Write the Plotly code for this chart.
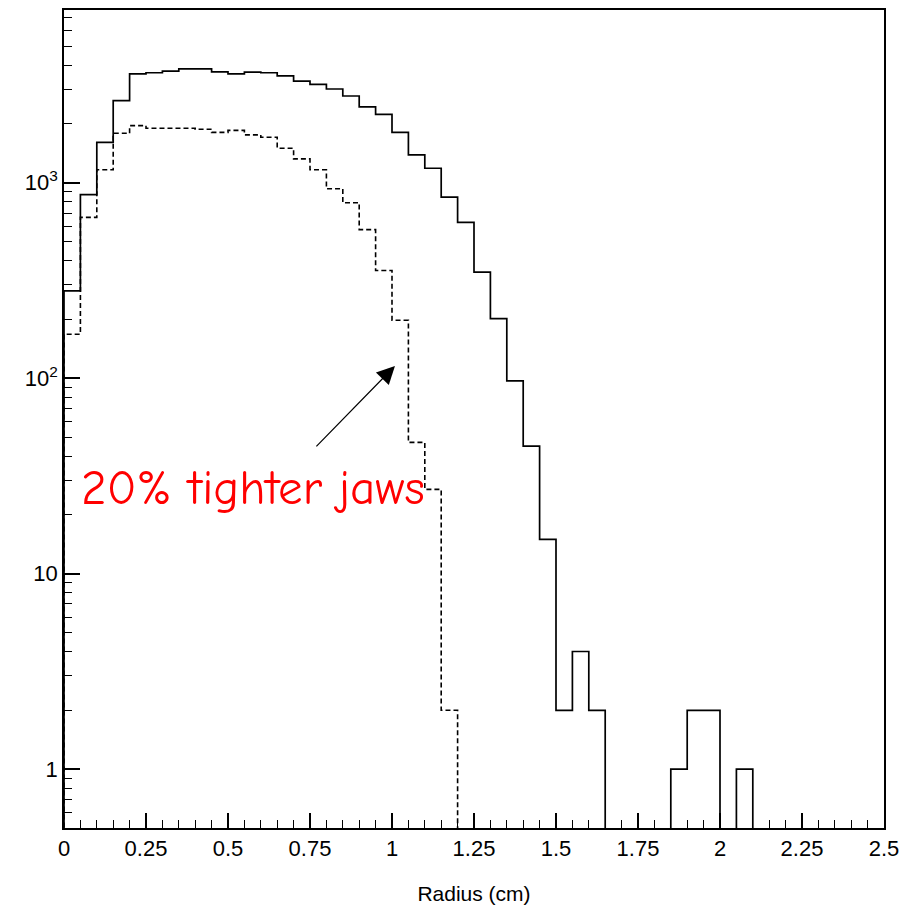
import numpy as np
import plotly.graph_objects as go

# ---- data ----
bin_width = 0.05
n_bins = 50
solid_counts = [280, 870, 1610, 2630, 3610, 3655, 3730, 3830, 3830, 3690,
                3610, 3680, 3655, 3525, 3313, 3185, 3018, 2780, 2445, 2238,
                1812, 1389, 1187, 845, 627, 349, 202, 97, 45, 15,
                2, 4, 2, 0, 0, 0, 0, 1, 2, 2,
                0, 1, 0, 0, 0, 0, 0, 0, 0, 0]
dashed_counts = [168, 665, 1165, 1791, 1960, 1900, 1900, 1900, 1880, 1812,
                 1855, 1758, 1710, 1503, 1325, 1165, 932, 790, 576, 356,
                 198, 47, 27, 2, 0, 0, 0, 0, 0, 0,
                 0, 0, 0, 0, 0, 0, 0, 0, 0, 0,
                 0, 0, 0, 0, 0, 0, 0, 0, 0, 0]
x_tick_vals = [0, 0.25, 0.5, 0.75, 1, 1.25, 1.5, 1.75, 2, 2.25, 2.5]
x_tick_text = ["0", "0.25", "0.5", "0.75", "1", "1.25", "1.5", "1.75", "2", "2.25", "2.5"]
y_tick_vals = [1, 10, 100, 1000]
y_tick_text = ["1", "10", "10<sup>2</sup>", "10<sup>3</sup>"]
x_title = "Radius (cm)"
note_text = "20% tighter jaws"

FLOOR = 1e-3  # zero counts drawn below the visible range (clipped at the axis)

edges = np.arange(n_bins + 1) * bin_width


def step_xy(counts):
    c = np.array(counts, dtype=float)
    c = np.where(c > 0, c, FLOOR)
    xs = np.concatenate([[edges[0]], edges[:-1], [edges[-1]]])
    ys = np.concatenate([[FLOOR], c, [c[-1]]])
    return xs, ys


fig = go.Figure()
xs, ys = step_xy(solid_counts)
fig.add_trace(go.Scatter(x=xs, y=ys, mode="lines", line_shape="hv",
                         line=dict(color="black", width=1.7), showlegend=False))
xs, ys = step_xy(dashed_counts)
fig.add_trace(go.Scatter(x=xs, y=ys, mode="lines", line_shape="hv",
                         line=dict(color="black", width=1.6, dash="5px,3px"),
                         showlegend=False))

minor_y = []
for d in [0.1, 1, 10, 100, 1000]:
    for m in range(2, 10):
        v = m * d
        if 0.5 < v < 7600:
            minor_y.append(v)

tick_font = dict(family="Liberation Sans, Arial, sans-serif", size=22, color="black")

fig.update_layout(
    width=915, height=910,
    margin=dict(l=64, r=31, t=8, b=82),
    paper_bgcolor="white", plot_bgcolor="white",
    xaxis=dict(range=[0, 2.5], showgrid=False, zeroline=False,
               showline=True, linecolor="black", linewidth=1.5, mirror=True,
               ticks="inside", ticklen=15, tickwidth=1.5, tickcolor="black",
               tickmode="array", tickvals=x_tick_vals, ticktext=x_tick_text,
               tickfont=tick_font,
               minor=dict(ticks="inside", ticklen=8, tickwidth=1.3, tickcolor="black",
                          dtick=0.05, tick0=0, showgrid=False),
               title=dict(text=x_title, font=dict(family="Liberation Sans, Arial, sans-serif",
                                                  size=21, color="black"), standoff=26)),
    yaxis=dict(type="log", range=[np.log10(0.5), 3.884], showgrid=False, zeroline=False,
               showline=True, linecolor="black", linewidth=1.5, mirror=True,
               ticks="inside", ticklen=16, tickwidth=1.5, tickcolor="black",
               tickmode="array", tickvals=y_tick_vals, ticktext=y_tick_text,
               tickfont=tick_font,
               minor=dict(ticks="inside", ticklen=8, tickwidth=1.3, tickcolor="black",
                          tickmode="array", tickvals=minor_y, showgrid=False)),
)

fig.add_annotation(x=0.575, y=1.44, xref="x", yref="y", text=note_text, showarrow=False,
                   font=dict(family="Comic Sans MS, Comic Neue, Noto Sans, sans-serif",
                             size=49, color="red"),
                   xanchor="center", yanchor="middle")
fig.add_annotation(x=1.009, y=2.063, xref="x", yref="y", ax=0.765, ay=1.644,
                   axref="x", ayref="y", text="", showarrow=True,
                   arrowhead=2, arrowsize=3, arrowwidth=1.2, arrowcolor="black")

fig.write_html("out.html")
